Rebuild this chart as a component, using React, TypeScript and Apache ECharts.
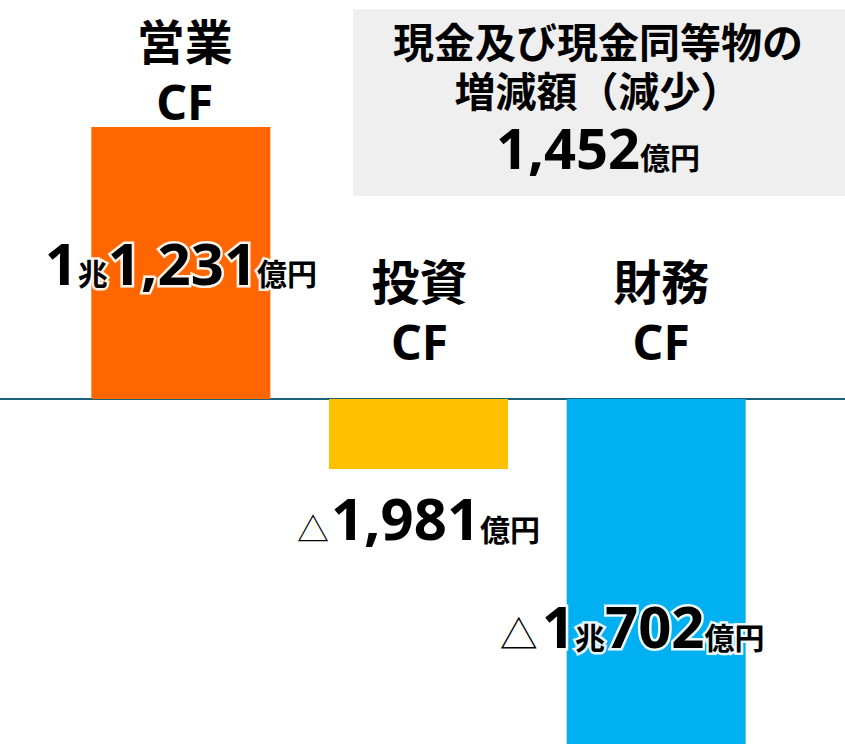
import { useEffect, useRef } from 'react';
import * as echarts from 'echarts';

// bar lengths as drawn in the picture (億円 scale of the operating bar)
const categories = ['営業', '投資', '財務'];
const barValues = [11231, -2890, -14245];
const trillionParts = ['1', '', '1'];
const okuParts = ['1,231', '1,981', '702'];
const isDecrease = [false, true, true];
const barColors = ['#FF6600', '#FFC000', '#00B0F0'];
const netTitle = ['現金及び現金同等物の', '増減額（減少）'];
const netAmount = '1,452';

const LATIN = "'Noto Sans', 'Noto Sans CJK JP', sans-serif";
const CJK = "'Noto Sans CJK JP', sans-serif";

const Y_MIN = -14245;
const Y_MAX = 11231;

function amountText(i: number) {
  let s = isDecrease[i] ? (i === 2 ? '{tri2|△}' : '{tri|△}') : '';
  if (trillionParts[i]) s += `{big|${trillionParts[i]}}{cho|兆}`;
  s += `{big|${okuParts[i]}}{yen|億円}`;
  return s;
}

const small = (size: number) => ({
  fontSize: size,
  fontFamily: CJK,
  fontWeight: 'bold',
  color: '#000',
  verticalAlign: 'bottom',
  lineHeight: size,
  padding: [0, 0, 4, 0],
});

const rich: any = {
  big: {
    fontSize: 58,
    fontFamily: LATIN,
    fontWeight: 'bold',
    color: '#000',
    verticalAlign: 'bottom',
    lineHeight: 60,
  },
  cho: small(30),
  yen: small(30),
  tri: { ...small(32), fontWeight: 'normal', padding: [0, 2, 4, 0] },
  tri2: { ...small(38), fontWeight: 'normal', padding: [0, 4, 4, 0] },
};

// label placement per bar
const valueLabelPos = [
  { position: 'inside', distance: 0, offset: [0, -2], glow: true },
  { position: 'bottom', distance: 18, offset: [0, 0], glow: false },
  { position: 'inside', distance: 0, offset: [-24, 53], glow: true },
];
const nameLabelPos = [
  { distance: -4, offset: [4, 0] },
  { distance: 28, offset: [1, 0] },
  { distance: 28, offset: [5, 0] },
];

const withGlow = (glow: boolean) =>
  Object.fromEntries(
    Object.entries(rich).map(([k, s]: [string, any]) => [
      k,
      glow ? { ...s, textBorderColor: 'rgba(255,255,255,0.92)', textBorderWidth: 5 } : s,
    ])
  );

export default function App() {
  const chartRef = useRef<HTMLDivElement>(null);

  useEffect(() => {
    if (!chartRef.current) return;
    document.body.style.margin = '0';
    const chart = echarts.init(chartRef.current, null, { renderer: 'svg' });

    chart.setOption({
      animation: false,
      grid: [
        { left: 62, right: 70, top: 127, bottom: 0 },
        { left: 0, right: 0, top: 127, bottom: 0 },
      ],
      xAxis: [
        { type: 'category', gridIndex: 0, data: categories, show: false },
        {
          type: 'value',
          gridIndex: 1,
          min: 0,
          max: 1,
          axisLine: { show: true, onZero: true, lineStyle: { color: '#19607A', width: 2 } },
          axisTick: { show: false },
          axisLabel: { show: false },
          splitLine: { show: false },
        },
      ],
      yAxis: [
        { type: 'value', gridIndex: 0, min: Y_MIN, max: Y_MAX, show: false },
        { type: 'value', gridIndex: 1, min: Y_MIN, max: Y_MAX, show: false },
      ],
      graphic: [
        {
          type: 'rect',
          shape: { x: 353, y: 9, width: 492, height: 187 },
          style: { fill: '#EFEFEF' },
          z: -10,
        },
        {
          type: 'text',
          x: 598,
          y: 64,
          style: {
            text: netTitle.join('\n'),
            fontSize: 41,
            fontWeight: 'bold',
            fontFamily: CJK,
            lineHeight: 49,
            fill: '#000',
            textAlign: 'center',
            textVerticalAlign: 'middle',
          },
        },
        {
          type: 'text',
          x: 598,
          y: 146,
          style: {
            text: `{n|${netAmount}}{u|億円}`,
            textAlign: 'center',
            textVerticalAlign: 'middle',
            rich: {
              n: { ...rich.big, fontSize: 56, lineHeight: 58 },
              u: small(30),
            },
          },
        },
      ],
      series: [
        {
          type: 'bar',
          xAxisIndex: 0,
          yAxisIndex: 0,
          barWidth: 179,
          barGap: '-100%',
          silent: true,
          data: barValues.map((v, i) => ({
            value: v,
            itemStyle: { color: barColors[i] },
            label: {
              show: true,
              position: valueLabelPos[i].position,
              distance: valueLabelPos[i].distance,
              offset: valueLabelPos[i].offset,
              formatter: amountText(i),
              rich: withGlow(valueLabelPos[i].glow),
            },
          })),
          z: 1,
        },
        {
          type: 'bar',
          xAxisIndex: 0,
          yAxisIndex: 0,
          barWidth: 179,
          barGap: '-100%',
          silent: true,
          itemStyle: { color: 'transparent' },
          data: barValues.map((v, i) => ({
            value: v,
            label: {
              show: true,
              position: 'top',
              distance: nameLabelPos[i].distance,
              offset: nameLabelPos[i].offset,
              formatter: `${categories[i]}\nCF`,
              fontSize: 48,
              fontWeight: 'bold',
              fontFamily: LATIN,
              lineHeight: 60,
              color: '#000',
            },
          })),
          z: 2,
        },
      ],
    });

    return () => {
      chart.dispose();
    };
  }, []);

  return <div ref={chartRef} style={{ width: 845, height: 744 }} />;
}
